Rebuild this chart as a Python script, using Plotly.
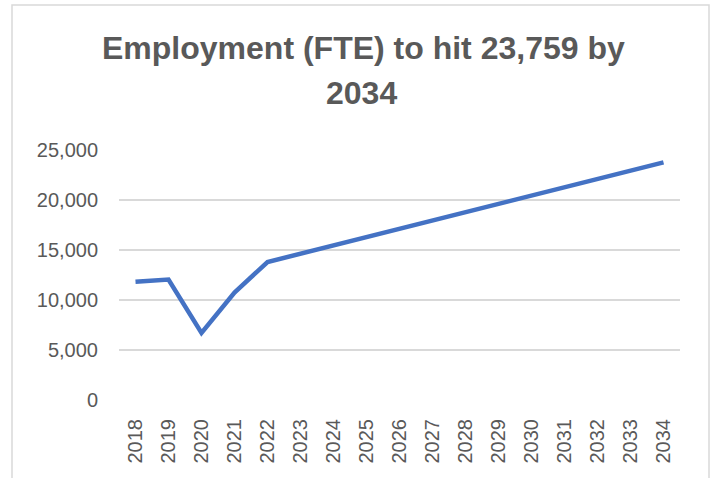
import plotly.graph_objects as go

years = [str(y) for y in range(2018, 2035)]
employment = [11830, 12050, 6700, 10750, 13800, 14630, 15460, 16290, 17120,
              17950, 18780, 19610, 20440, 21270, 22100, 22930, 23759]
y_ticks = [0, 5000, 10000, 15000, 20000, 25000]
y_labels = ["0", "5,000", "10,000", "15,000", "20,000", "25,000"]
title_lines = ["Employment (FTE) to hit 23,759 by", "2034"]

W, H = 711, 478
L, R, T, B = 119, 31, 150, 78
pw, ph = W - L - R, H - T - B

def px(x):
    return (x - L) / pw

def py(y):
    return (H - B - y) / ph

fig = go.Figure()
fig.add_trace(go.Scatter(
    x=years, y=employment, mode="lines",
    line=dict(color="#4472C4", width=4.5),
    hoverinfo="skip", showlegend=False,
))

fig.update_layout(
    width=W, height=H,
    margin=dict(l=L, r=R, t=T, b=B, pad=0),
    paper_bgcolor="white", plot_bgcolor="white",
    font=dict(family="Liberation Sans", color="#595959", size=20),
    xaxis=dict(
        type="category", range=[-0.5, len(years) - 0.5], tickangle=-90,
        showgrid=False, zeroline=False,
        showline=False, ticks="", ticklabelstandoff=14,
        tickfont=dict(size=20, color="#595959"),
    ),
    yaxis=dict(
        range=[0, 25000], tickvals=y_ticks, ticktext=y_labels,
        showgrid=True, gridcolor="#d9d9d9", gridwidth=1.5,
        zeroline=False, showline=False, ticks="", ticklabelstandoff=20,
        tickfont=dict(size=20, color="#595959"),
    ),
    shapes=[dict(
        type="rect", xref="paper", yref="paper",
        x0=px(12), x1=px(709), y0=py(495), y1=py(5),
        line=dict(color="#d9d9d9", width=1.5), fillcolor="rgba(0,0,0,0)",
        layer="below",
    )],
    annotations=[
        dict(text=f"<b>{title_lines[0]}</b>", xref="paper", yref="paper",
             x=px(363), y=py(48), xanchor="center", yanchor="middle",
             showarrow=False, font=dict(size=32, color="#595959", family="Liberation Sans")),
        dict(text=f"<b>{title_lines[1]}</b>", xref="paper", yref="paper",
             x=px(361), y=py(93), xanchor="center", yanchor="middle",
             showarrow=False, font=dict(size=32, color="#595959", family="Liberation Sans")),
    ],
)

fig.write_html("out.html")
